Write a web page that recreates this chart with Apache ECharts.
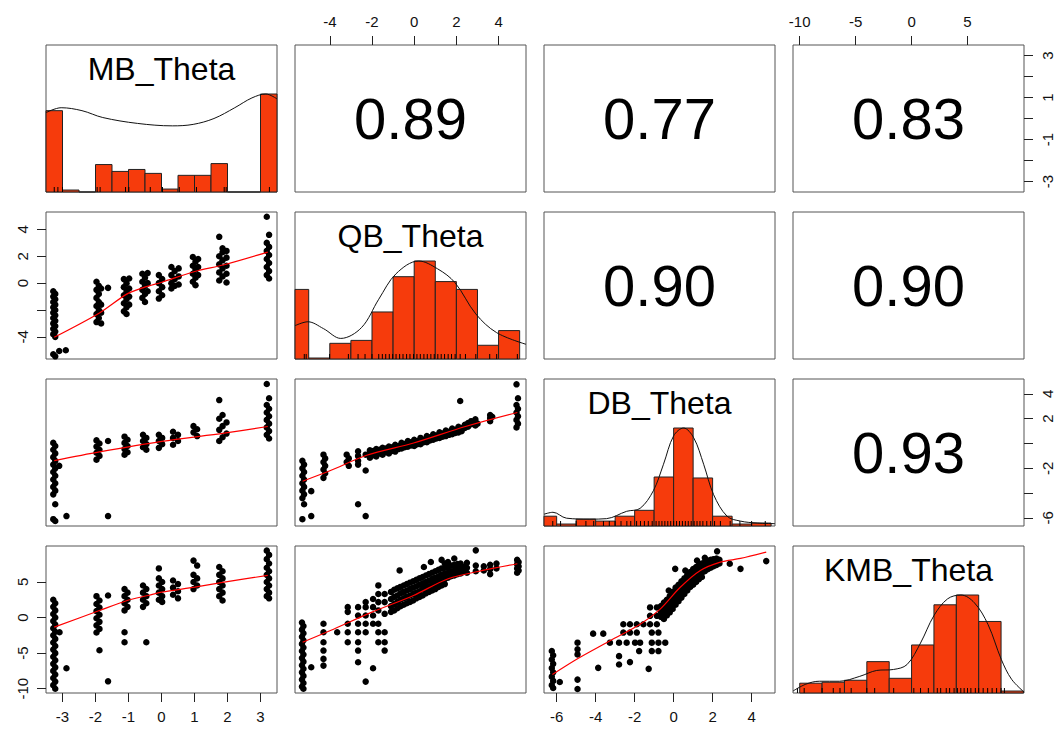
<!DOCTYPE html>
<html>
<head>
<meta charset="utf-8">
<script src="https://cdn.jsdelivr.net/npm/echarts@6/dist/echarts.min.js"></script>
<style>
  html, body { margin: 0; padding: 0; background: #fff; }
  #container { width: 1063px; height: 734px; }
</style>
</head>
<body>
<div id="container"></div>
<script>
// ---- data ----
var varNames = ['MB_Theta', 'QB_Theta', 'DB_Theta', 'KMB_Theta'];
var varMin = [-3.5, -5.65, -6.65, -10.6];
var varMax = [3.5, 5.3, 5.2, 10.05];

// upper panels: [row, col, text]
var corrPairs = [[0, 1, '0.89'], [0, 2, '0.77'], [0, 3, '0.83'], [1, 2, '0.90'], [1, 3, '0.90'], [2, 3, '0.93']];

// tick values
var mbTicks = [-3, -2, -1, 0, 1, 2, 3];
var qbTicks = [-4, -2, 0, 2, 4];
var dbTicks = [-6, -4, -2, 0, 2, 4];
var kmbTicks = [-10, -5, 0, 5];
var mbRightLabels = [-3, -1, 1, 3];
var dbRightLabels = [-6, -2, 2, 4];
var qbLeftLabels = [-4, 0, 2, 4];

// histograms (heights relative to tallest bar)
var mbBreaks = [-3.5, -3, -2.5, -2, -1.5, -1, -0.5, 0, 0.5, 1, 1.5, 2, 2.5, 3, 3.5];
var mbHeights = [0.83, 0.02, 0, 0.28, 0.21, 0.23, 0.19, 0.03, 0.17, 0.17, 0.29, 0, 0, 1.0];
var qbBreaks = [-6, -5, -4, -3, -2, -1, 0, 1, 2, 3, 4, 5];
var qbHeights = [0.71, 0.01, 0.16, 0.19, 0.48, 0.84, 1.0, 0.79, 0.71, 0.14, 0.29];
var dbBreaks = [-7, -6, -5, -4, -3, -2, -1, 0, 1, 2, 3, 4, 5];
var dbHeights = [0.10, 0.02, 0.07, 0.05, 0.10, 0.16, 0.50, 1.0, 0.49, 0.10, 0.02, 0.03];
var kmbBreaks = [-10, -8, -6, -4, -2, 0, 2, 4, 6, 8, 10];
var kmbHeights = [0.10, 0.11, 0.13, 0.32, 0.15, 0.49, 0.90, 1.0, 0.73, 0.02];

// density curves
var mbDensX = [-3.5, -3.04, -2.41, -1.78, -0.73, 0.33, 0.96, 1.59, 2.22, 2.74, 3.16, 3.5];
var mbDensY = [0.81, 0.86, 0.83, 0.76, 0.70, 0.675, 0.69, 0.75, 0.86, 0.96, 1.0, 0.95];
var qbDensX = [-5.65, -5.04, -4.3, -3.48, -2.5, -1.68, -0.86, 0.21, 1.11, 1.93, 2.92, 3.9, 5.3];
var qbDensY = [0.34, 0.38, 0.31, 0.21, 0.32, 0.61, 0.87, 1.0, 0.92, 0.78, 0.46, 0.27, 0.15];
var dbDensX = [-6.65, -6.19, -5.5, -4.3, -3.44, -2.41, -1.72, -1.04, -0.52, 0.0, 0.51, 1.03, 1.54, 2.05, 2.74, 3.43, 4.29, 5.2];
var dbDensY = [0.12, 0.14, 0.08, 0.07, 0.075, 0.15, 0.18, 0.36, 0.63, 0.92, 1.0, 0.9, 0.63, 0.32, 0.1, 0.05, 0.03, 0.024];
var kmbDensX = [-10.6, -9.45, -8.25, -6.44, -4.63, -3.12, -1.62, -0.41, 0.8, 2.0, 3.21, 4.41, 5.62, 6.83, 8.03, 8.94, 10.05];
var kmbDensY = [0.02, 0.09, 0.12, 0.12, 0.17, 0.23, 0.24, 0.29, 0.51, 0.79, 0.96, 1.0, 0.92, 0.70, 0.34, 0.14, 0.01];

// rug marks
var mbRug = [-3.25, -3.14, -3.0, -1.95, -1.86, -1.09, -0.99, -0.34, 0.03, 0.54, 1.06, 1.9, 1.96, 3.27];
var qbRug = [-5.21, -5.12, -4.01, -3.12, -2.66, -2.33, -2.0, -1.68, -1.51, -1.35, -1.18, -1.02, -0.86, -0.69, -0.53,
  -0.36, -0.2, -0.03, 0.13, 0.29, 0.46, 0.62, 0.79, 0.95, 1.12, 1.28, 1.44, 1.61, 1.77, 1.94, 2.18, 2.43, 2.92, 3.58, 3.91, 4.89];
var dbRug = [-6.2, -5.8, -5.0, -4.5, -4.1, -3.6, -3.3, -3.0, -2.7, -2.4, -2.2, -1.9, -1.7, -1.5, -1.3, -1.1, -0.9, -0.75,
  -0.6, -0.45, -0.3, -0.15, 0.0, 0.15, 0.3, 0.45, 0.6, 0.75, 0.9, 1.05, 1.2, 1.35, 1.5, 1.7, 1.9, 2.1, 2.4, 2.9, 3.4, 4.0, 4.7];
var kmbRug = [-10.2, -9.6, -8.0, -7.0, -6.4, -5.4, -4.0, -3.3, -1.6, 0.2, 0.8, 1.5, 2.3, 2.6, 3.1, 3.4, 3.8, 4.1, 4.4,
  4.7, 5.0, 5.3, 5.7, 6.0, 6.4, 6.8, 7.2, 7.6, 8.0, 8.3];

// scatter clusters: [x, [y values]]
var mbQbPts = [
  [-3.28, [-0.6, -1.0, -1.4, -1.8, -2.2, -2.6, -3.0, -3.4, -3.8, -5.3]],
  [-3.22, [-0.8, -1.2, -1.6, -2.0, -2.4, -2.8, -3.2, -3.6, -4.0, -5.45]],
  [-3.1, [-5.05]], [-2.9, [-5.0]],
  [-1.97, [0.1, -0.5, -1.1, -1.7, -2.3, -2.9]],
  [-1.9, [-0.2, -0.8, -1.4, -2.0, -2.6]],
  [-1.83, [-0.4, -1.6, -2.2, -3.0]],
  [-1.62, [-0.35]],
  [-1.14, [0.3, -0.3, -0.9, -1.5, -2.1]],
  [-1.06, [0.0, -0.6, -1.2, -1.8, -2.3]],
  [-0.98, [0.35, -0.4, -1.0, -1.6]],
  [-0.58, [0.7, 0.1, -0.5, -1.1]],
  [-0.5, [0.4, -0.2, -0.8, -1.4]],
  [-0.42, [0.75, 0.0, -0.6]],
  [-0.08, [0.6, 0.0, -0.6, -1.15]],
  [0.02, [0.3, -0.3, -0.9]],
  [0.3, [1.2, 0.6, 0.0, -0.4]],
  [0.4, [0.9, 0.3, -0.2]],
  [0.52, [1.1, 0.5, -0.1]],
  [0.95, [1.95, 1.3, 0.7, 0.1]],
  [1.03, [1.6, 1.0, 0.4, -0.15]],
  [1.11, [1.8, 1.2, 0.6]],
  [1.75, [3.45, 2.0, 1.4, 0.8, 0.2]],
  [1.85, [2.6, 2.3, 1.7, 1.1, 0.5]],
  [1.97, [2.4, 1.9, 1.3, 0.7, 0.05]],
  [3.19, [4.95, 3.0, 2.4, 1.8, 1.2, 0.6]],
  [3.26, [3.6, 2.7, 2.1, 1.5, 0.9, 0.35]]
];
var mbQbLoessX = [-3.25, -1.88, -1.04, -0.51, 0.01, 1.01, 1.9, 3.22];
var mbQbLoessY = [-4.03, -2.22, -0.8, -0.3, 0.07, 0.87, 1.37, 2.31];

var mbDbPts = [
  [-3.28, [0.05, -0.5, -1.1, -1.7, -2.3, -2.9, -3.5, -4.1, -6.1]],
  [-3.22, [-0.2, -0.8, -1.4, -2.0, -2.6, -3.2, -3.8, -4.9, -6.25]],
  [-3.1, [-1.8]], [-2.88, [-5.85]],
  [-1.97, [0.25, -0.25, -0.75, -1.3]],
  [-1.88, [0.0, -0.5, -1.0]],
  [-1.62, [0.2, -5.85]],
  [-1.12, [0.55, 0.05, -0.45, -0.9]],
  [-1.03, [0.3, -0.2, -0.7]],
  [-0.56, [0.7, 0.2, -0.3]],
  [-0.46, [0.45, -0.05, -0.5]],
  [-0.08, [0.7, 0.2, -0.35]],
  [0.02, [0.45, -0.05]],
  [0.35, [0.95, 0.45, -0.1]],
  [0.5, [0.7, 0.2]],
  [0.97, [1.4, 0.9]],
  [1.08, [1.15, 0.6]],
  [1.75, [3.5, 2.0, 1.1, 0.2]],
  [1.85, [2.3, 1.4, 0.5]],
  [1.97, [1.7, 0.8]],
  [3.19, [4.8, 3.1, 2.5, 1.9, 1.3, 0.7]],
  [3.26, [3.65, 2.8, 2.2, 1.6, 1.0, 0.4]]
];
var mbDbLoessX = [-3.25, -1.88, 0.01, 1.9, 3.22];
var mbDbLoessY = [-1.38, -0.68, 0.17, 0.84, 1.37];

var qbDbPts = [
  [-5.3, [-1.4, -2.0, -2.6, -3.2, -3.8, -4.4, -6.1]],
  [-5.22, [-1.7, -2.3, -2.9, -3.5, -4.1, -4.9]],
  [-4.88, [-3.84, -5.85]],
  [-4.3, [-0.9, -1.5, -2.1, -2.77]],
  [-4.22, [-1.2, -1.8, -2.4]],
  [-3.2, [-0.9, -1.5]],
  [-3.1, [-1.2, -1.8]],
  [-2.66, [-0.63, -1.0, -1.4, -1.7, -4.9]],
  [-2.3, [-0.9, -2.18, -5.85]],
  [-2.1, [-0.55, -0.85, -1.15]],
  [-1.95, [-0.6, -0.95]],
  [-1.8, [-0.45, -0.75, -1.05]],
  [-1.65, [-0.5, -0.8]],
  [-1.5, [-0.35, -0.6, -0.9]],
  [-1.35, [-0.4, -0.7]],
  [-1.2, [-0.25, -0.5, -0.8]],
  [-1.05, [-0.3, -0.6]],
  [-0.9, [-0.1, -0.35, -0.65]],
  [-0.75, [-0.2, -0.45]],
  [-0.6, [0.05, -0.15, -0.4]],
  [-0.45, [-0.05, -0.3]],
  [-0.3, [0.2, 0.0, -0.25]],
  [-0.15, [0.1, -0.15]],
  [0.0, [0.3, 0.05, -0.2]],
  [0.15, [0.2, -0.05]],
  [0.3, [0.45, 0.2, -0.05]],
  [0.45, [0.3, 0.1]],
  [0.6, [0.6, 0.35, 0.1]],
  [0.75, [0.5, 0.25]],
  [0.9, [0.75, 0.5, 0.3]],
  [1.05, [0.65, 0.4]],
  [1.2, [0.9, 0.65, 0.45]],
  [1.35, [0.8, 0.55]],
  [1.5, [1.05, 0.8, 0.6]],
  [1.65, [0.95, 0.7]],
  [1.8, [1.2, 0.95, 0.75]],
  [1.95, [1.1, 0.85]],
  [2.1, [1.35, 1.1, 0.9]],
  [2.18, [3.43]],
  [2.25, [1.25, 1.0]],
  [2.4, [1.5, 1.25]],
  [2.55, [1.65, 1.35]],
  [2.7, [1.8, 1.55]],
  [2.9, [1.95, 1.7, 1.45]],
  [3.0, [1.6]],
  [3.6, [2.3, 2.05, 1.8]],
  [3.7, [2.15]],
  [4.85, [4.77, 3.1, 2.5, 1.9, 1.3]],
  [4.92, [3.65, 2.8, 2.2, 1.6]]
];
var qbDbLoessX = [-5.29, -3.97, -2.25, -0.03, 2.43, 4.89];
var qbDbLoessY = [-3.04, -2.18, -0.95, 0.04, 1.37, 2.5];

var mbKmbPts = [
  [-3.28, [2.5, 1.5, 0.5, -0.5, -1.5, -2.5, -3.5, -4.5, -5.5, -6.5, -7.5, -8.5, -9.5]],
  [-3.22, [2.0, 1.0, 0.0, -1.0, -2.0, -3.0, -4.0, -5.0, -6.0, -7.0, -8.0, -9.0, -10.0]],
  [-3.09, [-2.06]], [-2.88, [-7.13]],
  [-1.97, [3.0, 1.9, 0.9, -0.1, -1.1, -2.1]],
  [-1.88, [2.4, 1.4, 0.4, -0.6, -1.6, -4.6]],
  [-1.62, [3.1, -8.96]],
  [-1.12, [4.0, 3.0, 2.0, 1.0, -2.06, -3.47]],
  [-1.03, [3.5, 2.5, 1.5]],
  [-0.56, [4.5, 3.5, 2.5, 1.5]],
  [-0.46, [4.0, 3.0, 2.0, -3.47]],
  [-0.08, [6.9, 5.5, 4.5, 3.5, 2.5]],
  [0.02, [5.0, 4.0, 3.0, 2.2]],
  [0.35, [5.2, 4.2, 3.2]],
  [0.5, [4.7, 3.7, 2.7]],
  [0.97, [8.0, 6.0, 5.0, 4.0]],
  [1.08, [7.3, 5.5, 4.5]],
  [1.75, [7.1, 6.0, 5.0, 4.0, 3.0]],
  [1.85, [6.5, 5.5, 4.5, 3.5, 2.4]],
  [3.19, [9.4, 8.2, 7.0, 6.0, 5.0, 4.0, 3.0]],
  [3.26, [8.8, 7.6, 6.5, 5.5, 4.5, 3.5, 2.7]]
];
var mbKmbLoessX = [-3.25, -1.88, -1.04, -0.41, 0.01, 1.01, 1.9, 3.22];
var mbKmbLoessY = [-1.35, 0.99, 2.4, 3.1, 3.57, 4.28, 4.98, 5.92];

var qbKmbPts = [
  [-5.32, [-0.7, -1.7, -2.7, -3.7, -4.7, -5.7, -6.7, -7.7, -8.7, -9.7]],
  [-5.25, [-1.2, -2.2, -3.2, -4.2, -5.2, -6.2, -7.2, -8.2, -9.2, -10.0]],
  [-4.88, [-6.98]],
  [-4.3, [-0.88, -2.06, -3.47, -4.64, -5.81, -6.75]],
  [-3.65, [-2.06]],
  [-3.15, [1.46, 0.8, -0.88, -2.06, -3.47]],
  [-2.66, [1.46, 0.29, -0.88, -2.06, -3.47, -4.64, -6.28]],
  [-2.3, [2.17, 1.46, 0.29, -0.88, -2.06, -9.0]],
  [-1.95, [2.6, 1.46, 0.29, -0.88, -7.13]],
  [-1.7, [4.51, 3.3, 2.17, 1.0, -0.88, -2.06, -3.47]],
  [-1.4, [3.3, 2.17, 0.52, -2.06, -3.47, -4.64]],
  [-1.1, [3.6, 2.6, 1.6, 0.8]],
  [-0.95, [3.9, 2.9, 1.9, 1.0]],
  [-0.8, [4.1, 3.1, 2.2, 1.3]],
  [-0.69, [6.62]],
  [-0.65, [4.3, 3.4, 2.5, 1.6]],
  [-0.5, [4.5, 3.6, 2.7, 1.8]],
  [-0.35, [4.7, 3.8, 2.9, 2.0]],
  [-0.2, [4.9, 4.0, 3.1, 2.2]],
  [-0.05, [5.1, 4.2, 3.3, 2.4]],
  [0.1, [5.3, 4.4, 3.5, 2.7]],
  [0.25, [5.5, 4.6, 3.7, 2.9]],
  [0.4, [5.7, 4.8, 4.0, 3.1]],
  [0.46, [7.1]],
  [0.55, [5.9, 5.0, 4.2, 3.4]],
  [0.7, [6.1, 5.2, 4.4, 3.6]],
  [0.79, [7.8]],
  [0.85, [6.3, 5.4, 4.6, 3.8]],
  [1.0, [6.5, 5.6, 4.8, 4.0]],
  [1.15, [6.7, 5.8, 5.0, 4.3]],
  [1.3, [8.1, 6.9, 6.0, 5.2, 4.5]],
  [1.45, [7.6, 7.0, 6.2, 5.4, 4.7]],
  [1.6, [7.8, 7.1, 6.3, 5.6]],
  [1.75, [7.3, 6.5, 5.8]],
  [1.9, [8.3, 7.4, 6.6, 5.9]],
  [2.05, [7.5, 6.8, 6.1]],
  [2.2, [7.6, 6.9, 6.2]],
  [2.35, [7.1, 6.4]],
  [2.5, [7.7, 7.0, 6.3]],
  [2.92, [9.44, 7.3, 6.5]],
  [3.3, [7.2, 6.6]],
  [3.6, [7.4, 6.8, 6.1]],
  [3.9, [7.6, 6.9]],
  [4.88, [8.1, 7.5, 6.9, 6.3]],
  [4.95, [7.8, 7.2, 6.6]]
];
var qbKmbLoessX = [-5.29, -3.97, -2.0, -0.03, 1.61, 3.25, 4.89];
var qbKmbLoessY = [-3.47, -1.82, 0.76, 3.1, 5.45, 6.62, 7.56];

var dbKmbPts = [
  [-6.25, [-4.7, -5.9, -7.1, -8.3, -9.5]],
  [-6.18, [-5.3, -6.5, -7.7, -8.9, -9.9]],
  [-5.84, [-9.05]],
  [-4.93, [-3.53, -4.47, -5.18, -8.72, -10.04]],
  [-4.13, [-2.26]], [-3.87, [-7.07]], [-3.61, [-2.26]],
  [-3.27, [-3.53]],
  [-2.8, [-3.53, -5.42, -6.59]],
  [-2.58, [-0.94, -2.11]],
  [-2.41, [-3.53]],
  [-2.24, [-0.94, -2.11, -6.26]],
  [-1.98, [-3.53]],
  [-1.89, [-0.94, -2.11]],
  [-1.77, [-4.71]],
  [-1.72, [-3.53]],
  [-1.55, [-0.94]],
  [-1.28, [-7.21]],
  [-1.21, [-0.94, 0.24, 1.42]],
  [-1.12, [-2.11, -3.53, -4.71]],
  [-0.86, [-0.94, 0.24, 1.42]],
  [-0.78, [-2.11, -3.53, -4.71]],
  [-0.43, [-3.53]],
  [-0.65, [1.6, 0.8, 0.1]],
  [-0.5, [2.1, 1.3, 0.5, -0.2]],
  [-0.35, [2.5, 1.8, 1.0, 0.3]],
  [-0.25, [3.8]],
  [-0.2, [3.0, 2.2, 1.5, 0.7]],
  [-0.05, [3.6, 2.8, 2.0, 1.2]],
  [0.08, [6.84]],
  [0.1, [4.2, 3.3, 2.5, 1.8]],
  [0.25, [4.6, 3.8, 3.0, 2.3]],
  [0.4, [5.1, 4.3, 3.5, 2.8]],
  [0.55, [5.5, 4.8, 4.0, 3.3]],
  [0.6, [6.6]],
  [0.7, [6.0, 5.2, 4.5, 3.8]],
  [0.85, [6.4, 5.6, 4.9, 4.3]],
  [1.0, [6.8, 6.0, 5.3, 4.6]],
  [1.15, [7.1, 6.4, 5.7, 5.0]],
  [1.2, [8.02]],
  [1.3, [7.4, 6.7, 6.0, 5.4]],
  [1.45, [7.6, 6.9, 6.3, 5.7]],
  [1.6, [8.4, 7.8, 7.2, 6.5]],
  [1.75, [8.0, 7.4, 6.8]],
  [1.9, [8.1, 7.6, 7.0]],
  [2.05, [8.2, 7.7, 7.2]],
  [2.2, [8.3, 7.8, 7.4]],
  [2.23, [9.3]],
  [2.35, [8.1, 7.6]],
  [2.88, [7.55]],
  [3.43, [6.84]],
  [4.75, [7.93]]
];
var dbKmbLoessX = [-6.22, -4.93, -3.44, -1.72, -0.69, 0.34, 1.37, 2.4, 3.43, 4.75];
var dbKmbLoessY = [-8.0, -5.79, -3.53, -0.94, 1.19, 4.25, 6.61, 7.79, 8.3, 9.2];

// ---- chart ----
var histColor = '#F63B0C';
var fontFam = '"Liberation Sans", Arial, Helvetica, sans-serif';
var colLeft = [46, 295, 544, 793];
var rowTop = [45, 212, 379, 546];
var panelW = 231, panelH = 147;

var diagPanels = [
  { breaks: mbBreaks, heights: mbHeights, dx: mbDensX, dy: mbDensY, rug: mbRug },
  { breaks: qbBreaks, heights: qbHeights, dx: qbDensX, dy: qbDensY, rug: qbRug },
  { breaks: dbBreaks, heights: dbHeights, dx: dbDensX, dy: dbDensY, rug: dbRug },
  { breaks: kmbBreaks, heights: kmbHeights, dx: kmbDensX, dy: kmbDensY, rug: kmbRug }
];

var lowerPanels = [
  { row: 1, col: 0, pts: mbQbPts, lx: mbQbLoessX, ly: mbQbLoessY },
  { row: 2, col: 0, pts: mbDbPts, lx: mbDbLoessX, ly: mbDbLoessY },
  { row: 2, col: 1, pts: qbDbPts, lx: qbDbLoessX, ly: qbDbLoessY },
  { row: 3, col: 0, pts: mbKmbPts, lx: mbKmbLoessX, ly: mbKmbLoessY },
  { row: 3, col: 1, pts: qbKmbPts, lx: qbKmbLoessX, ly: qbKmbLoessY },
  { row: 3, col: 2, pts: dbKmbPts, lx: dbKmbLoessX, ly: dbKmbLoessY }
];

var outerAxes = [
  { row: 0, col: 1, dim: 'x', pos: 'top', ticks: qbTicks, labels: qbTicks },
  { row: 0, col: 3, dim: 'x', pos: 'top', ticks: kmbTicks, labels: kmbTicks },
  { row: 0, col: 3, dim: 'y', pos: 'right', ticks: mbTicks, labels: mbRightLabels },
  { row: 2, col: 3, dim: 'y', pos: 'right', ticks: dbTicks, labels: dbRightLabels },
  { row: 1, col: 0, dim: 'y', pos: 'left', ticks: qbTicks, labels: qbLeftLabels },
  { row: 3, col: 0, dim: 'y', pos: 'left', ticks: kmbTicks, labels: kmbTicks },
  { row: 3, col: 0, dim: 'x', pos: 'bottom', ticks: mbTicks, labels: mbTicks },
  { row: 3, col: 2, dim: 'x', pos: 'bottom', ticks: dbTicks, labels: dbTicks }
];

function zip(xs, ys) {
  return xs.map(function (x, n) { return [x, ys[n]]; });
}

function flatten(groups) {
  var out = [];
  groups.forEach(function (g) {
    g[1].forEach(function (y) { out.push([g[0], y]); });
  });
  return out;
}

function renderBar(params, api) {
  var p0 = api.coord([api.value(0), 0]);
  var p1 = api.coord([api.value(1), api.value(2)]);
  var cs = params.coordSys;
  var shape = echarts.graphic.clipRectByRect(
    { x: p0[0], y: p1[1], width: p1[0] - p0[0], height: p0[1] - p1[1] },
    { x: cs.x, y: cs.y, width: cs.width, height: cs.height }
  );
  return shape && {
    type: 'rect',
    shape: shape,
    style: { fill: histColor, stroke: '#222', lineWidth: 1 }
  };
}

function textSeries(k, x, y, text, size) {
  return {
    type: 'scatter', xAxisIndex: k, yAxisIndex: k, silent: true,
    symbolSize: 1, itemStyle: { color: 'rgba(0,0,0,0)', opacity: 1 },
    data: [[x, y]],
    label: {
      show: true, position: 'inside', formatter: text,
      fontSize: size, color: '#000', fontFamily: fontFam
    }
  };
}

var grids = [], xAxes = [], yAxes = [], series = [];
for (var i = 0; i < 4; i++) {
  for (var j = 0; j < 4; j++) {
    var k = i * 4 + j;
    grids.push({
      left: colLeft[j], top: rowTop[i], width: panelW, height: panelH,
      show: true, borderColor: '#555', borderWidth: 1,
      containLabel: false, outerBoundsMode: 'none'
    });
    xAxes.push({
      gridIndex: k, type: 'value', min: varMin[j], max: varMax[j],
      show: false, splitLine: { show: false }, axisLine: { onZero: false }
    });
    yAxes.push({
      gridIndex: k, type: 'value',
      min: i === j ? 0 : varMin[i], max: i === j ? 1.5 : varMax[i],
      show: false, splitLine: { show: false }, axisLine: { onZero: false }
    });
  }
}

outerAxes.forEach(function (a) {
  var k = a.row * 4 + a.col;
  var ax = a.dim === 'x' ? xAxes[k] : yAxes[k];
  ax.show = true;
  ax.position = a.pos;
  ax.axisLine = { show: false, onZero: false };
  ax.axisTick = { show: true, inside: false, length: 9, customValues: a.ticks, lineStyle: { color: '#222', width: 1 } };
  ax.axisLabel = {
    show: true, customValues: a.labels, margin: 16, fontSize: 15,
    color: '#111', fontFamily: fontFam, rotate: a.dim === 'y' ? 90 : 0
  };
});

// diagonal: histogram, density, rug, variable name
diagPanels.forEach(function (d, v) {
  var k = v * 5;
  var bars = d.heights.map(function (h, b) { return [d.breaks[b], d.breaks[b + 1], h]; });
  series.push({
    type: 'custom', xAxisIndex: k, yAxisIndex: k, silent: true,
    renderItem: renderBar, encode: { x: [0, 1], y: 2 }, data: bars
  });
  series.push({
    type: 'line', xAxisIndex: k, yAxisIndex: k, silent: true,
    data: zip(d.dx, d.dy), showSymbol: false, smooth: 0.35,
    lineStyle: { color: '#111', width: 1 }
  });
  series.push({
    type: 'scatter', xAxisIndex: k, yAxisIndex: k, silent: true, clip: false,
    symbol: 'rect', symbolSize: [1, 5], symbolOffset: [0, -2.5],
    itemStyle: { color: '#000', opacity: 1 },
    data: d.rug.map(function (r) { return [r, 0]; })
  });
  series.push(textSeries(k, (varMin[v] + varMax[v]) / 2, 1.255, varNames[v], 32));
});

// lower: scatter + loess
lowerPanels.forEach(function (p) {
  var k = p.row * 4 + p.col;
  series.push({
    type: 'scatter', xAxisIndex: k, yAxisIndex: k, silent: true,
    symbolSize: 6.5, itemStyle: { color: '#000', opacity: 1 },
    data: flatten(p.pts)
  });
  series.push({
    type: 'line', xAxisIndex: k, yAxisIndex: k, silent: true,
    data: zip(p.lx, p.ly), showSymbol: false, smooth: 0.3,
    lineStyle: { color: '#FF0000', width: 1.2 }
  });
});

// upper: correlations
corrPairs.forEach(function (c) {
  var k = c[0] * 4 + c[1];
  series.push(textSeries(k,
    (varMin[c[1]] + varMax[c[1]]) / 2,
    (varMin[c[0]] + varMax[c[0]]) / 2,
    c[2], 58));
});

var dom = document.getElementById('container');
var myChart = echarts.init(dom, null, { renderer: 'svg' });
var option = {
  animation: false,
  backgroundColor: '#fff',
  grid: grids,
  xAxis: xAxes,
  yAxis: yAxes,
  series: series
};
myChart.setOption(option);
</script>
</body>
</html>
